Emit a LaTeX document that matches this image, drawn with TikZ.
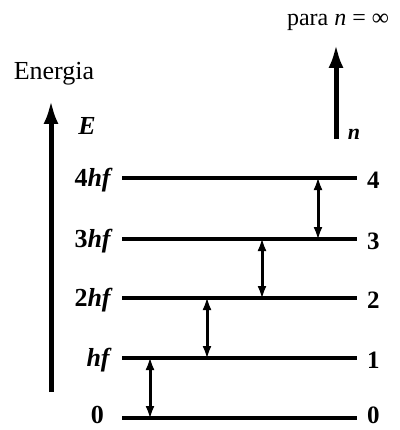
\documentclass[tikz,border=0pt]{standalone}
\usepackage{fontspec}
\setmainfont{Liberation Serif}
\usetikzlibrary{arrows.meta}
\begin{document}
\begin{tikzpicture}[x=1pt,y=-1pt,
  level/.style={line width=4pt},
  gap/.style={line width=3pt,{Latex[length=13pt,width=9pt]}-{Latex[length=13pt,width=9pt]},shorten <=-1pt,shorten >=-1pt},
  axis/.style={line width=5pt,-{Latex[length=24pt,width=15pt]}},
  lbl/.style={font=\fontsize{26}{28}\selectfont,inner sep=0pt},
  num/.style={font=\fontsize{25}{27}\selectfont\bfseries,inner sep=0pt,anchor=west}]
\useasboundingbox (0,0) rectangle (399,430);
% levels
\foreach \n/\y/\d in {0/418/-3,1/358/2,2/298/2,3/239/2,4/178/2}{
  \coordinate (L\n) at (122,\y);
  \coordinate (R\n) at (357,\y);
  \draw[level] (L\n) -- (R\n);
  \node[num] (rn\n) at (367,\y+\d) {\n};
}
% left labels
\node[lbl,anchor=east] (e0) at (104,415) {\textbf{0}};
\node[lbl,anchor=east] (e1) at (112,360) {\textbf{\textit{hf}}};
\node[lbl,anchor=east] (e2) at (113,300) {\textbf{2\textit{hf}}};
\node[lbl,anchor=east] (e3) at (113,241) {\textbf{3\textit{hf}}};
\node[lbl,anchor=east] (e4) at (113,180) {\textbf{4\textit{hf}}};
% gap arrows
\coordinate (a0) at (150,418); \coordinate (a1) at (150,358);
\coordinate (b0) at (207,358); \coordinate (b1) at (207,298);
\coordinate (c0) at (262,298); \coordinate (c1) at (262,239);
\coordinate (d0) at (318,239); \coordinate (d1) at (318,178);
\draw[gap] (a0) -- (a1);
\draw[gap] (b0) -- (b1);
\draw[gap] (c0) -- (c1);
\draw[gap] (d0) -- (d1);
% energy axis
\coordinate (es) at (51,392);
\coordinate (ee) at (51,100);
\draw[axis] (es) -- (ee);
\node[lbl] (energia) at (54,74) {Energia};
\node[lbl] (E) at (87,126) {\textbf{\textit{E}}};
% n axis
\coordinate (ns) at (336,139);
\coordinate (ne) at (336,44);
\draw[axis] (ns) -- (ne);
\node[lbl,font=\fontsize{22}{24}\selectfont] (n) at (354,134) {\textbf{\textit{n}}};
\node[lbl,font=\fontsize{24}{26}\selectfont] (para) at (338,22) {para \textit{n} = ∞};
\end{tikzpicture}
\end{document}
